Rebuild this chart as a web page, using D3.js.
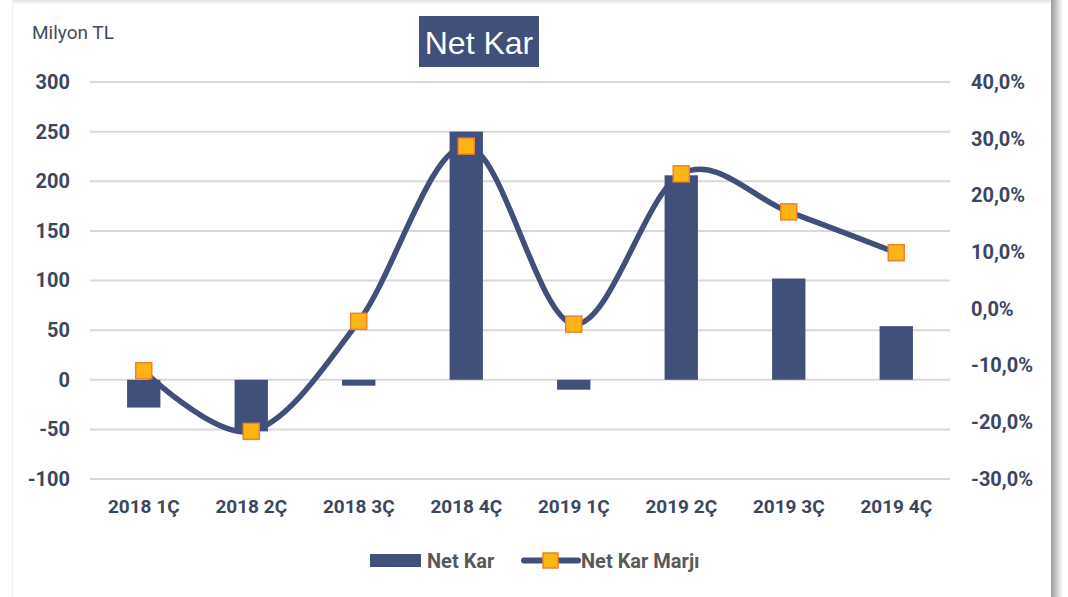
<!DOCTYPE html>
<html>
<head>
<meta charset="utf-8">
<script src="https://cdn.jsdelivr.net/npm/d3@7"></script>
<style>
  body{margin:0;background:#fff}
  svg{display:block}
</style>
</head>
<body>
<script>
// data
var quarters=["2018 1Ç","2018 2Ç","2018 3Ç","2018 4Ç","2019 1Ç","2019 2Ç","2019 3Ç","2019 4Ç"]
var netKar=[-28,-52,-6,250,-10,206,102,54]
var netKarMarji=[-10.9,-21.6,-2.2,28.7,-2.7,23.8,17.1,9.9]
var leftTicks=[300,250,200,150,100,50,0,-50,-100]
var rightTicks=[40,30,20,10,0,-10,-20,-30]

var W=1068,H=597
var margins={top:82,right:118,bottom:118,left:90}
var width=W-margins.left-margins.right
var height=H-margins.top-margins.bottom
var navy="#41507a"

var svg=d3.select("body").append("svg").attr("width",W).attr("height",H)

// card frame / shadow
var defs=svg.append("defs")
var grad=defs.append("linearGradient").attr("id","shadowR")
grad.append("stop").attr("offset","0%").attr("stop-color","#9a9a9a")
grad.append("stop").attr("offset","100%").attr("stop-color","#ffffff")
var gradT=defs.append("linearGradient").attr("id","shadowT").attr("x1",0).attr("x2",0).attr("y1",0).attr("y2",1)
gradT.append("stop").attr("offset","0%").attr("stop-color","#e4e4e4")
gradT.append("stop").attr("offset","100%").attr("stop-color","#ffffff")
svg.append("rect").attr("x",12).attr("y",0).attr("width",1039).attr("height",5).attr("fill","url(#shadowT)")
svg.append("rect").attr("x",1051).attr("y",0).attr("width",12).attr("height",H).attr("fill","url(#shadowR)")
svg.append("line").attr("x1",12.5).attr("x2",12.5).attr("y1",4).attr("y2",H).style("stroke","#f0f0f0")

var xScale=d3.scaleBand().domain(quarters).range([0,width]).paddingInner(0.69).paddingOuter(0.345)
var yScale=d3.scaleLinear().domain([-100,300]).range([height,0])
var y2Scale=d3.scaleLinear().domain([-30,40]).range([height,0])

var plot=svg.append("g").attr("transform","translate("+margins.left+","+margins.top+")")

// gridlines
plot.append("g").selectAll("line")
    .data(leftTicks)
    .enter()
    .append("line")
    .attr("x1",0)
    .attr("x2",width)
    .attr("y1",function(d){return yScale(d)})
    .attr("y2",function(d){return yScale(d)})
    .style("stroke","#d9d9d9")
    .style("stroke-width",2)

// bars
plot.append("g").selectAll("rect")
    .data(netKar)
    .enter()
    .append("rect")
    .attr("x",function(d,i){return xScale(quarters[i])})
    .attr("y",function(d){return yScale(Math.max(0,d))})
    .attr("width",xScale.bandwidth())
    .attr("height",function(d){return Math.abs(yScale(d)-yScale(0))})
    .attr("fill",navy)

// margin line
var cx=function(i){return xScale(quarters[i])+xScale.bandwidth()/2}
var line=d3.line()
    .x(function(d,i){return cx(i)})
    .y(function(d){return y2Scale(d)})
    .curve(d3.curveCatmullRom.alpha(0))
plot.append("path")
    .datum(netKarMarji)
    .attr("d",line)
    .attr("fill","none")
    .attr("stroke",navy)
    .attr("stroke-width",5.5)
    .attr("stroke-linecap","round")

var ms=16
plot.append("g").selectAll("rect")
    .data(netKarMarji)
    .enter()
    .append("rect")
    .attr("x",function(d,i){return cx(i)-ms/2})
    .attr("y",function(d){return y2Scale(d)-ms/2})
    .attr("width",ms)
    .attr("height",ms)
    .attr("fill","#fdb515")
    .attr("stroke","#f08030")
    .attr("stroke-width",1.5)

// axes
var fontF="Roboto, 'Liberation Sans', Arial, sans-serif"
var yAxis=d3.axisLeft(yScale).tickValues(leftTicks).tickSize(0).tickPadding(20)
    .tickFormat(function(d){return String(d)})
var gy=plot.append("g").call(yAxis)
gy.select(".domain").remove()
gy.selectAll("text").style("font-family",fontF).style("font-weight","bold").style("font-size","20px").attr("fill","#3b475f")

var y2Axis=d3.axisRight(y2Scale).tickValues(rightTicks).tickSize(0).tickPadding(21)
    .tickFormat(function(d){return d.toFixed(1).replace(".",",")+"%"})
var gy2=plot.append("g").attr("transform","translate("+width+",0)").call(y2Axis)
gy2.select(".domain").remove()
gy2.selectAll("text").style("font-family",fontF).style("font-weight","bold").style("font-size","20px").attr("fill","#3b475f")

var xAxis=d3.axisBottom(xScale).tickSize(0).tickPadding(21)
var gx=plot.append("g").attr("transform","translate(0,"+height+")").call(xAxis)
gx.select(".domain").remove()
gx.selectAll("text").style("font-family",fontF).style("font-weight","bold").style("font-size","19px").attr("fill","#3b475f")

// unit label
svg.append("text").attr("x",32).attr("y",39)
   .text("Milyon TL")
   .style("font-family",fontF).style("font-size","19px").attr("fill","#444c5c")

// title
svg.append("rect").attr("x",419).attr("y",16).attr("width",120).attr("height",51).attr("fill",navy)
svg.append("text").attr("x",479).attr("y",54).attr("text-anchor","middle")
   .text("Net Kar")
   .style("font-family","'Liberation Sans', Arial, sans-serif").style("font-size","32px").attr("fill","#fff")

// legend
var lg=svg.append("g")
lg.append("rect").attr("x",370).attr("y",554).attr("width",51).attr("height",13).attr("fill",navy)
lg.append("text").attr("x",427).attr("y",568).text("Net Kar")
  .style("font-family",fontF).style("font-weight","bold").style("font-size","20px").attr("fill","#595959")
lg.append("line").attr("x1",524).attr("x2",578).attr("y1",560.5).attr("y2",560.5)
  .attr("stroke",navy).attr("stroke-width",6).attr("stroke-linecap","round")
lg.append("rect").attr("x",543).attr("y",553).attr("width",15).attr("height",15)
  .attr("fill","#fdb515").attr("stroke","#f08030").attr("stroke-width",1.5)
lg.append("text").attr("x",581).attr("y",568).text("Net Kar Marjı")
  .style("font-family",fontF).style("font-weight","bold").style("font-size","20px").attr("fill","#595959")
</script>
</body>
</html>
